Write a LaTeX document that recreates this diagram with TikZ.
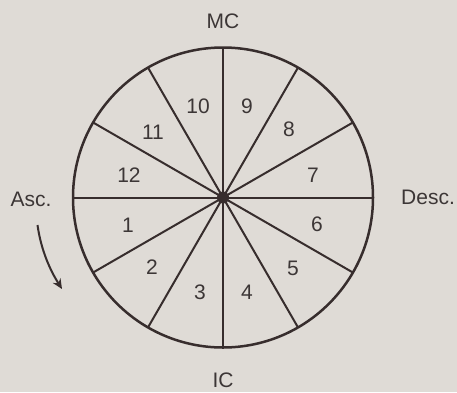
\documentclass[tikz,border=0pt]{standalone}
\usepackage{fontspec}
\setmainfont{Liberation Sans}
\usetikzlibrary{arrows.meta}
\definecolor{bg}{RGB}{223,219,214}
\definecolor{ink}{RGB}{55,45,45}
\definecolor{txt}{RGB}{60,54,54}
\begin{document}
\begin{tikzpicture}[x=1pt,y=-1pt,
  lbl/.style={text=txt,font=\fontsize{21}{23}\selectfont,inner sep=0pt},
  spoke/.style={draw=ink,line width=2pt}]
\fill[bg] (0,0) rectangle (457,392);
\useasboundingbox (0,0) rectangle (457,392);
\coordinate (c) at (223,197.5);
\draw[ink,line width=2.5pt] (c) circle (150);
\foreach \a in {0,30,...,330}{
  \draw[spoke] (c) -- ++({cos(\a)*150},{-sin(\a)*150});
}
\fill[ink] (c) circle (6);
\node[lbl] (mc) at (223,21) {MC};
\node[lbl] (ic) at (223,380) {IC};
\node[lbl] (asc) at (31,199) {Asc.};
\node[lbl] (desc) at (428,197) {Desc.};
\node[lbl] (h10) at (198,106) {10};
\node[lbl] (h9) at (247,106) {9};
\node[lbl] (h11) at (153,132) {11};
\node[lbl] (h8) at (289,129) {8};
\node[lbl] (h12) at (129,175) {12};
\node[lbl] (h7) at (313,175) {7};
\node[lbl] (h1) at (128,225) {1};
\node[lbl] (h6) at (317,224) {6};
\node[lbl] (h2) at (152,267) {2};
\node[lbl] (h5) at (293,268) {5};
\node[lbl] (h3) at (200,292) {3};
\node[lbl] (h4) at (247,292) {4};
\coordinate (as) at (37.5,225);
\coordinate (ae) at (62,289);
\draw[ink,line width=2pt,-{Stealth[length=10pt,width=9pt]}] (as) .. controls (41,250) and (50,270) .. (ae);
\end{tikzpicture}
\end{document}
